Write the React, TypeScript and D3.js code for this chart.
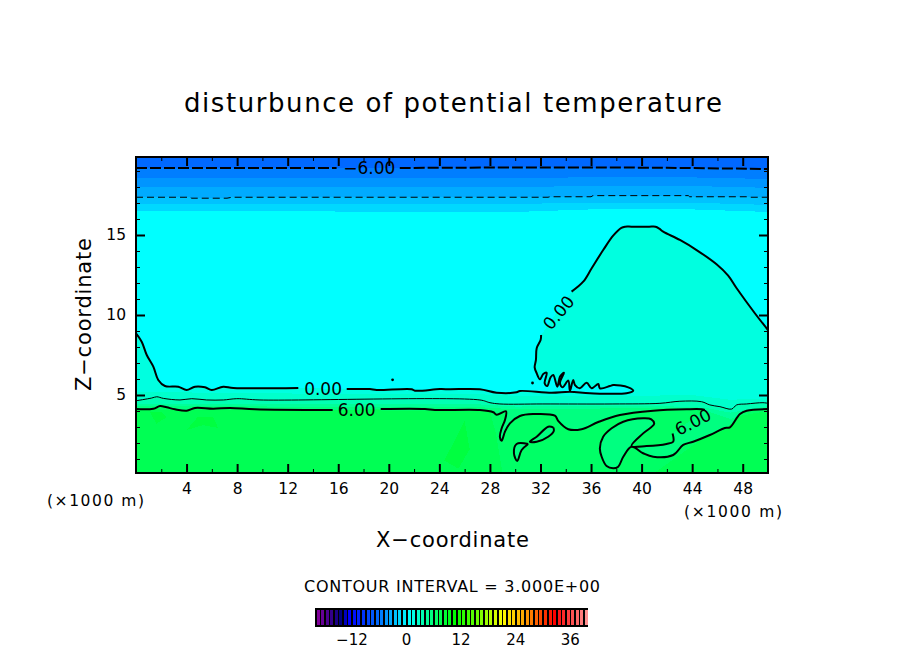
import React, { useEffect, useRef } from 'react';
import * as d3 from 'd3';

type Pt = [number, number];

// axes
const xMajor = [4, 8, 12, 16, 20, 24, 28, 32, 36, 40, 44, 48];
const xMinor = [2, 6, 10, 14, 18, 22, 26, 30, 34, 38, 42, 46];
const zMajor = [5, 10, 15];
const zMinor = [1, 2, 3, 4, 6, 7, 8, 9, 11, 12, 13, 14, 16, 17, 18, 19];
const barTicks = [-12, 0, 12, 24, 36];

// colour table
const colourLevels = [-20, -15, -13, -7, -2, 0, 10, 16, 20.5, 25.5, 32, 39.5];
const colourValues = ['#80009a', '#000080', '#0000ff', '#0068ff', '#00d8ff', '#00ffff', '#00ff00', '#80ff00', '#ffff00', '#ffa000', '#ff0000', '#ff9a9a'];

// contour -6 (thick dashed), split at the label
const minus6Left: Pt[] = [[0, 19.19], [15.87, 19.19]];
const minus6Right: Pt[] = [[20.87, 19.19], [32, 19.22], [42, 19.2], [50, 19.12]];

// contour -3 (thin dashed)
const minus3: Pt[] = [[0, 17.36], [4.27, 17.36], [4.4, 17.3], [7.2, 17.3], [7.6, 17.36], [32.6, 17.36], [32.75, 17.39], [36, 17.39], [36.15, 17.46], [43.7, 17.46], [43.8, 17.39], [48.3, 17.39], [48.4, 17.36], [50, 17.36]];

// contour 0, split at the labels
const zeroLeft: Pt[] = [[0, 8.85], [0.45, 8.33], [0.85, 7.5], [1.37, 6.77], [1.76, 5.94], [2.29, 5.56], [3.35, 5.52], [4.0, 5.31], [4.67, 5.52], [5.46, 5.48], [5.99, 5.31], [6.9, 5.52], [7.7, 5.44], [12.84, 5.44]];
const zeroMiddle: Pt[] = [[16.67, 5.37], [18.5, 5.37], [19.04, 5.31], [21.8, 5.36], [22.07, 5.27], [24.05, 5.37], [24.84, 5.36], [27.2, 5.36], [28.53, 5.14], [30.11, 5.17], [30.37, 5.25], [32.88, 5.14], [34.33, 5.2], [35.91, 5.11], [38.81, 5.11], [39.34, 5.27], [38.94, 5.48], [37.75, 5.62], [37.49, 5.56], [36.7, 5.42], [36.57, 5.69], [36.05, 5.42], [35.65, 5.77], [35.12, 5.42], [34.73, 5.62], [34.59, 5.94], [34.33, 5.25], [34.2, 5.9], [33.75, 5.48], [33.54, 5.73], [33.86, 6.39], [33.54, 6.14], [33.33, 5.52], [33.01, 6.25], [32.8, 6.11], [32.53, 5.56], [32.33, 5.73], [32.49, 6.39], [32.22, 6.31], [31.96, 5.98], [31.7, 6.36], [31.54, 6.73], [31.64, 7.19], [31.7, 7.92], [32.01, 8.44], [32.05, 8.75]];
const zeroRight: Pt[] = [[34.46, 11.46], [35.38, 12.08], [36.05, 12.92], [36.96, 14.06], [37.75, 14.96], [38.4, 15.45], [38.7, 15.52], [39.2, 15.52], [40.6, 15.52], [41.1, 15.52], [41.4, 15.4], [41.71, 15.21], [43.03, 14.69], [44.35, 14.06], [45.93, 13.17], [46.85, 12.46], [47.52, 11.67], [48.96, 10.11], [50, 9.06]];
const zeroDots: Pt[] = [[20.3, 5.95], [31.37, 5.75]];

// contour 3 (thin)
const three: Pt[] = [[0, 4.64], [1.24, 4.81], [1.64, 4.89], [2.16, 4.79], [3.48, 4.69], [4.41, 4.77], [5.59, 4.69], [6.91, 4.69], [7.97, 4.77], [9.81, 4.69], [27.21, 4.69], [28, 4.52], [28.79, 4.44], [32.19, 4.44], [37.73, 4.44], [41.45, 4.48], [43.03, 4.61], [44.75, 4.58], [45.4, 4.38], [46.2, 4.27], [47.12, 4.12], [47.52, 4.38], [48.31, 4.44], [49.6, 4.52], [50, 4.48]];

// contour 6, split at the labels
const sixLeft: Pt[] = [[0, 4.12], [1.37, 4.14], [1.9, 4.31], [2.43, 4.23], [3.08, 4.11], [4.01, 4.02], [4.67, 4.19], [6.11, 4.14], [7.44, 4.19], [9.41, 4.11], [15.56, 4.06]];
const sixMiddle: Pt[] = [[19.36, 4.12], [22.86, 4.12], [23.65, 4.06], [27.21, 4.06], [28.27, 3.92], [28.53, 3.77], [29.27, 3.98], [29.19, 3.44], [28.93, 2.92], [28.79, 2.39], [28.93, 2.14], [29.19, 2.71], [29.58, 3.23], [30.37, 3.69], [31.43, 3.81], [33.14, 3.71], [33.4, 3.38], [34.2, 2.86], [35.25, 2.86], [36.57, 3.31], [38.28, 3.75], [40.92, 4.02], [43.56, 4.11], [44.75, 4.11], [45, 4.06]];
const sixRight: Pt[] = [[42.45, 2.6], [42.5, 2.08], [41.97, 1.94], [40.39, 1.81], [39.2, 1.81], [40.12, 2.6], [40.99, 3.19], [40.77, 3.48], [40.12, 3.54], [38.55, 3.33], [37.63, 2.92], [36.96, 2.39], [36.7, 1.67], [36.84, 1.14], [37.23, 0.56], [37.75, 0.42], [38.15, 0.52], [38.55, 1.14], [39.2, 1.77], [40.12, 1.36], [40.92, 1.14], [42.5, 1.25], [43.29, 1.88], [44.08, 2.08], [45.4, 2.5], [46.59, 2.94], [46.99, 2.98], [47.78, 3.81], [48.31, 4.02], [50, 4.12]];
const sixLoopA: Pt[] = [[33.01, 2.98], [32.61, 3.02], [31.7, 2.39], [31.16, 2.08], [31.7, 2.08], [32.61, 2.39], [33.06, 2.77], [33.01, 2.98]];
const sixLoopB: Pt[] = [[31.03, 1.94], [30.11, 1.94], [29.9, 1.36], [30.16, 0.88], [30.51, 1.56], [31.03, 1.94]];

// shaded bands, each edge is the upper limit of one colour
const topLevels = [-6, -5, -4, -3, -2, 0];
const topEdges: Pt[][] = [
  [[0, 19.19], [32, 19.22], [42, 19.2], [50, 19.12]],
  [[0, 18.56], [25, 18.56], [36, 18.6], [44, 18.6], [50, 18.5]],
  [[0, 18.0], [30, 18.0], [36, 18.06], [44, 18.06], [50, 17.95]],
  minus3,
  [[0, 16.94], [30, 16.94], [36, 17.02], [44, 17.02], [50, 16.88]],
  [[0, 16.5], [30, 16.44], [36, 16.6], [44, 16.6], [50, 16.44]],
];
const lowLevels = [2, 3, 4, 5];
const lowEdges: Pt[][] = [
  [[0, 5.2], [10, 5.1], [27, 5.05], [30, 4.95], [40, 4.95], [44, 5.0], [47, 4.7], [50, 4.8]],
  three,
  [[0, 4.45], [27, 4.42], [30, 4.28], [42, 4.3], [45, 4.2], [47, 3.9], [50, 4.3]],
  [[0, 4.3], [27, 4.25], [30, 4.1], [42, 4.2], [45, 4.05], [47, 3.5], [50, 4.2]],
];
// slightly warmer patches inside the 6 contour
const patchLeft: Pt[] = [[0, 4.1], [28, 4.0], [28.5, 2.5], [29, 0.125], [0, 0.125]];
const patchRight: Pt[] = [[44.5, 2.1], [46.6, 2.85], [47.8, 3.7], [50, 4.0], [50, 0.125], [41, 0.125]];
const patchWarm: Pt[][] = [
  [[4, 2.81], [4.9, 3.64], [6.1, 3.64], [6.5, 2.94], [5.3, 3.12]],
  [[1.1, 3.96], [2, 3.95], [2.4, 3.6], [1.6, 3.2]],
  [[24.4, 0.9], [26, 3.4], [26.4, 1.6], [25.5, 0.4]],
];

// contour labels: text, x, z, angle
const labelTexts = ['\u22126.00', '0.00', '6.00', '0.00', '6.00'];
const labelX = [18.46, 14.8, 17.46, 33.43, 44.06];
const labelZ = [19.19, 5.37, 4.06, 10.15, 3.31];
const labelAngle = [0, 0, 0, -50, -27];

const FONT = '"DejaVu Sans", sans-serif';

export default function App() {
  const svgRef = useRef<SVGSVGElement>(null);
  const width = 904;
  const height = 654;

  useEffect(() => {
    if (!svgRef.current) return;
    const svg = d3.select(svgRef.current);
    svg.selectAll('*').remove();

    const x = d3.scaleLinear().domain([0, 50]).range([136, 768]);
    const z = d3.scaleLinear().domain([0.125, 19.875]).range([473, 157]);
    const colour = d3.scaleLinear<string>().domain(colourLevels).range(colourValues).interpolate(d3.interpolateRgb);
    const line = d3.line<Pt>().x(d => x(d[0])).y(d => z(d[1]));
    const curve = d3.line<Pt>().x(d => x(d[0])).y(d => z(d[1])).curve(d3.curveCatmullRom.alpha(0.5));

    svg.append('rect').attr('width', width).attr('height', height).attr('fill', '#fff');
    svg.append('clipPath').attr('id', 'plot').append('rect')
      .attr('x', x(0)).attr('y', z(19.875)).attr('width', x(50) - x(0)).attr('height', z(0.125) - z(19.875));

    const fills = svg.append('g').attr('clip-path', 'url(#plot)').attr('shape-rendering', 'crispEdges');
    const addFill = (pts: Pt[], level: number) => fills.append('path').attr('d', line(pts) + 'Z').attr('fill', colour(level));
    const corners: Pt[] = [[50, 0.125], [0, 0.125]];

    addFill([[0, 19.875], [50, 19.875], ...corners], -7);
    topEdges.forEach((edge, i) => addFill([...edge, ...corners], topLevels[i]));
    addFill([...zeroLeft, ...zeroMiddle, ...zeroRight, ...corners], 1.2);
    lowEdges.forEach((edge, i) => addFill([...edge, ...corners], lowLevels[i]));
    addFill([...sixLeft, ...sixMiddle, ...sixRight, ...corners], 6);
    addFill(patchLeft, 6.7);
    addFill(patchRight, 6.7);
    patchWarm.forEach(p => addFill(p, 7.5));
    addFill(sixLoopA, 5);
    addFill(sixLoopB, 5);

    const contours = svg.append('g').attr('clip-path', 'url(#plot)').attr('fill', 'none').attr('stroke', '#000').attr('stroke-linejoin', 'round');
    const addLine = (pts: Pt[], w: number, dash?: string) => contours.append('path').attr('d', curve(pts)).attr('stroke-width', w).attr('stroke-dasharray', dash ?? null);
    addLine(minus6Left, 2, '11 3');
    addLine(minus6Right, 2, '11 3');
    contours.append('path').attr('d', line(minus3)).attr('stroke-width', 1).attr('stroke-dasharray', '7 4');
    addLine(three, 1);
    [zeroLeft, zeroMiddle, zeroRight, sixLeft, sixMiddle, sixRight, sixLoopA, sixLoopB].forEach(p => addLine(p, 2));
    svg.append('g').selectAll('circle').data(zeroDots).enter().append('circle')
      .attr('cx', d => x(d[0])).attr('cy', d => z(d[1])).attr('r', 1.4).attr('fill', '#000');

    svg.append('g').selectAll('text').data(labelTexts).enter().append('text')
      .attr('transform', (_, i) => `translate(${x(labelX[i])},${z(labelZ[i])}) rotate(${labelAngle[i]})`)
      .attr('text-anchor', 'middle').attr('dy', '0.36em')
      .style('font-family', FONT).style('font-size', '17px').text(d => d);

    // frame and ticks, all pointing inwards
    const axes = svg.append('g');
    const styleAxis = (g: d3.Selection<SVGGElement, unknown, null, undefined>) => {
      g.style('font-family', FONT).style('font-size', '15.5px');
      g.selectAll('.tick line').attr('stroke-width', 2);
      g.selectAll('.tick text').attr('fill', '#000');
      g.select('.domain').remove();
    };
    const addAxis = (axis: d3.Axis<d3.NumberValue>, tx: number, ty: number, w = 2) => {
      const g = axes.append('g').attr('transform', `translate(${tx},${ty})`).call(axis as any);
      styleAxis(g as any);
      g.selectAll('.tick line').attr('stroke-width', w);
    };
    addAxis(d3.axisBottom(x).tickValues(xMajor).tickSize(-9).tickPadding(10).tickFormat(d3.format('d')), 0, z(0.125));
    addAxis(d3.axisBottom(x).tickValues(xMinor).tickSize(-4).tickFormat(() => ''), 0, z(0.125), 1);
    addAxis(d3.axisTop(x).tickValues(xMajor).tickSize(-9).tickFormat(() => ''), 0, z(19.875));
    addAxis(d3.axisTop(x).tickValues(xMinor).tickSize(-4).tickFormat(() => ''), 0, z(19.875), 1);
    addAxis(d3.axisLeft(z).tickValues(zMajor).tickSize(-9).tickPadding(10).tickFormat(d3.format('d')), x(0), 0);
    addAxis(d3.axisLeft(z).tickValues(zMinor).tickSize(-4).tickFormat(() => ''), x(0), 0, 1);
    addAxis(d3.axisRight(z).tickValues(zMajor).tickSize(-9).tickFormat(() => ''), x(50), 0);
    addAxis(d3.axisRight(z).tickValues(zMinor).tickSize(-4).tickFormat(() => ''), x(50), 0, 1);
    svg.append('rect').attr('x', x(0)).attr('y', z(19.875)).attr('width', x(50) - x(0)).attr('height', z(0.125) - z(19.875))
      .attr('fill', 'none').attr('stroke', '#000').attr('stroke-width', 2.5).attr('shape-rendering', 'crispEdges');

    const addText = (s: string, px: number, py: number, size: number, len: number, rotate = 0) => svg.append('text')
      .attr('transform', `translate(${px},${py}) rotate(${rotate})`)
      .attr('textLength', len).attr('lengthAdjust', 'spacing')
      .style('font-family', FONT).style('font-size', `${size}px`).text(s);
    addText('disturbunce of potential temperature', 184, 112, 26, 538);
    addText('X\u2212coordinate', 376, 547, 21, 153);
    addText('Z\u2212coordinate', 91, 391, 21, 153, -90);
    addText('(\u00d71000 m)', 47, 506, 15.5, 97);
    addText('(\u00d71000 m)', 684, 517, 15.5, 98);
    addText('CONTOUR INTERVAL = 3.000E+00', 304, 592, 16, 296);

    // colour key
    const bar = d3.scaleLinear().domain([-20, 40]).range([315, 588]);
    const barLevels = d3.range(-20, 40);
    const key = svg.append('g').attr('shape-rendering', 'crispEdges');
    key.append('rect').attr('x', bar(-20)).attr('y', 608).attr('width', bar(40) - bar(-20)).attr('height', 19)
      .attr('fill', '#000');
    key.selectAll('rect.seg').data(barLevels).enter().append('rect').attr('class', 'seg')
      .attr('x', d => bar(d) + 1.5).attr('y', 610).attr('width', 3).attr('height', 15)
      .attr('fill', d => colour(d));
    const keyAxis = svg.append('g').attr('transform', 'translate(0,634)')
      .call(d3.axisBottom(bar).tickValues(barTicks).tickSize(0).tickPadding(0));
    keyAxis.style('font-family', FONT).style('font-size', '15px');
    keyAxis.select('.domain').remove();
    keyAxis.selectAll('.tick text').attr('fill', '#000');
  }, []);

  return <svg ref={svgRef} width={width} height={height} viewBox={`0 0 ${width} ${height}`} style={{ position: 'absolute', left: 0, top: 0, display: 'block' }} />;
}
